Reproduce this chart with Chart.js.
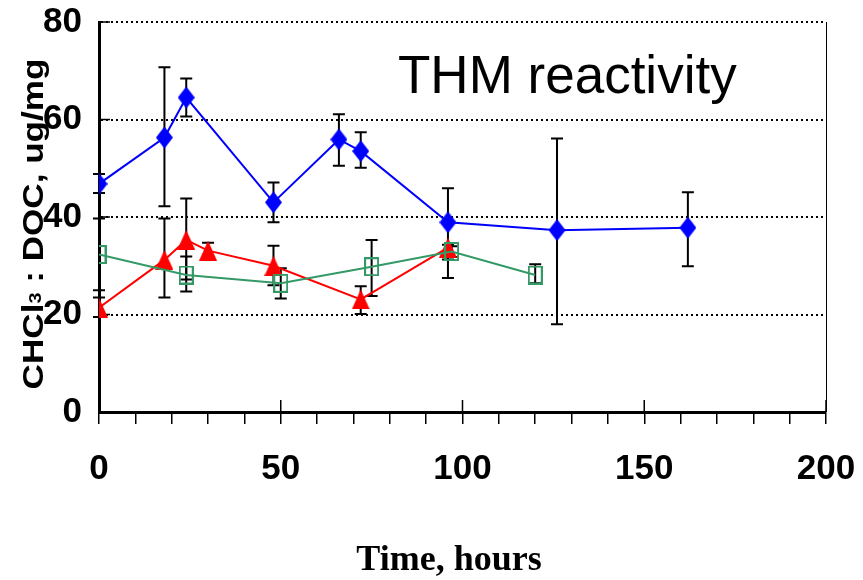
<!DOCTYPE html>
<html>
<head>
<meta charset="utf-8">
<script src="https://cdn.jsdelivr.net/npm/chart.js@4.4.1/dist/chart.umd.min.js"></script>
<style>
  html, body { margin: 0; padding: 0; background: #fff; }
</style>
</head>
<body>
<canvas id="thmChart" width="863" height="580"></canvas>
<script>
// sampling times (hours) and CHCl3 : DOC (ug/mg) with error bar limits
var blueHours = [0, 18, 24, 48, 66, 72, 96, 126, 162];
var blueValues = [46.8, 56.3, 64.5, 43.0, 55.9, 53.5, 38.9, 37.3, 37.8];
var blueHigh = [48.8, 70.7, 68.4, 47.1, 61.1, 57.4, 45.9, 56.1, 45.1];
var blueLow = [44.9, 42.2, 60.6, 38.9, 50.5, 50.1, 27.5, 18.0, 29.9];

var redHours = [0, 18, 24, 30, 48, 72, 96];
var redValues = [21.4, 31.2, 35.3, 33.1, 30.0, 23.1, 33.7];
var redHigh = [23.5, 39.7, 43.8, 34.7, 34.1, 25.8, 34.3];
var redLow = [19.5, 23.5, 27.2, 31.5, 26.0, 20.1, 31.3];

var greenHours = [0, 24, 50, 75, 97, 120];
var greenValues = [32.3, 28.1, 26.4, 29.8, 32.9, 28.1];
var greenHigh = [39.7, 31.9, 29.5, 35.3, 34.0, 30.3];
var greenLow = [25.0, 24.7, 23.3, 23.8, 31.8, 26.4];

var xTickLabels = [0, 50, 100, 150, 200];
var yTickLabels = [0, 20, 40, 60, 80];

var tickFont = '"Liberation Sans Narrow", "Arial Narrow", Arial, sans-serif';

function toPoints(xs, ys) {
    return xs.map(function(x, i) { return { x: x, y: ys[i] }; });
}

function marker(w, h, draw) {
    var c = document.createElement('canvas');
    c.width = w;
    c.height = h;
    draw(c.getContext('2d'), w, h);
    return c;
}

var diamond = marker(17, 22, function(g, w, h) {
    g.fillStyle = '#0000ff';
    g.beginPath();
    g.moveTo(w / 2, 0); g.lineTo(w, h / 2); g.lineTo(w / 2, h); g.lineTo(0, h / 2);
    g.closePath();
    g.fill();
});
var triangle = marker(18, 20, function(g, w, h) {
    g.fillStyle = '#ff0000';
    g.beginPath();
    g.moveTo(w / 2, 0); g.lineTo(w, h); g.lineTo(0, h);
    g.closePath();
    g.fill();
});
var square = marker(15, 19, function(g, w, h) {
    g.strokeStyle = '#339966';
    g.lineWidth = 2;
    g.strokeRect(1, 1, w - 2, h - 2);
});

function series(label, xs, ys, hi, lo, color, style) {
    return {
        label: label,
        data: toPoints(xs, ys),
        errHigh: hi,
        errLow: lo,
        showLine: true,
        borderColor: color,
        borderWidth: 2,
        pointStyle: style,
        pointRadius: 9,
        pointHoverRadius: 9
    };
}

// error bars go under the markers and lines
var errorBars = {
    id: 'errorBars',
    beforeDatasetsDraw: function(chart) {
        var ctx = chart.ctx, xs = chart.scales.x, ys = chart.scales.y;
        ctx.save();
        ctx.strokeStyle = '#000';
        ctx.lineWidth = 2;
        chart.data.datasets.forEach(function(ds) {
            ds.data.forEach(function(p, i) {
                var px = xs.getPixelForValue(p.x);
                var top = ys.getPixelForValue(ds.errHigh[i]);
                var bot = ys.getPixelForValue(ds.errLow[i]);
                ctx.beginPath();
                ctx.moveTo(px, top); ctx.lineTo(px, bot);
                ctx.moveTo(px - 6, top); ctx.lineTo(px + 6, top);
                ctx.moveTo(px - 6, bot); ctx.lineTo(px + 6, bot);
                ctx.stroke();
            });
        });
        ctx.restore();
    }
};

// inward y ticks, upward half of major x ticks, right frame line and the texts
var decorations = {
    id: 'decorations',
    beforeDatasetsDraw: function(chart) {
        var ctx = chart.ctx, a = chart.chartArea, xs = chart.scales.x, ys = chart.scales.y;
        ctx.save();
        ctx.strokeStyle = '#000';
        ctx.lineWidth = 1.5;
        ctx.beginPath();
        yTickLabels.forEach(function(v) {
            var py = ys.getPixelForValue(v);
            ctx.moveTo(a.left, py); ctx.lineTo(a.left + 11, py);
        });
        xTickLabels.forEach(function(v) {
            var px = xs.getPixelForValue(v);
            ctx.moveTo(px, a.bottom); ctx.lineTo(px, a.bottom - 12);
        });
        ctx.stroke();
        ctx.lineWidth = 1;
        ctx.beginPath();
        ctx.moveTo(a.right + 0.5, a.top); ctx.lineTo(a.right + 0.5, a.bottom);
        ctx.stroke();
        ctx.restore();
    },
    afterDraw: function(chart) {
        var ctx = chart.ctx;
        ctx.save();
        ctx.fillStyle = '#000';

        ctx.font = '53px "Liberation Sans", Arial, sans-serif';
        ctx.textAlign = 'left';
        ctx.textBaseline = 'alphabetic';
        ctx.fillText('THM reactivity', 398, 93);

        ctx.font = 'bold 36px "Liberation Serif", "Times New Roman", serif';
        ctx.textAlign = 'center';
        ctx.fillText('Time, hours', 449, 570);

        // rotated y title with a subscript 3
        var big = 'bold 30px "Liberation Sans", Arial, sans-serif';
        var small = 'bold 17px "Liberation Sans", Arial, sans-serif';
        var parts = [['CHCl', big, 0], ['3', small, -2], [' : DOC, ug/mg', big, 0]];
        var total = 0;
        parts.forEach(function(p) { ctx.font = p[1]; total += ctx.measureText(p[0]).width; });
        ctx.translate(43, 224);
        ctx.rotate(-Math.PI / 2);
        ctx.scale(1.17, 1);
        ctx.textAlign = 'left';
        var x = -total / 2;
        parts.forEach(function(p) {
            ctx.font = p[1];
            ctx.fillText(p[0], x, p[2]);
            x += ctx.measureText(p[0]).width;
        });
        ctx.restore();
    }
};

var ctx = document.getElementById('thmChart').getContext('2d');
var thmChart = new Chart(ctx, {
    type: 'scatter',
    data: {
        datasets: [
            series('Blue', blueHours, blueValues, blueHigh, blueLow, '#0000ff', diamond),
            series('Green', greenHours, greenValues, greenHigh, greenLow, '#339966', square),
            series('Red', redHours, redValues, redHigh, redLow, '#ff0000', triangle)
        ]
    },
    options: {
        responsive: false,
        animation: false,
        events: [],
        layout: { padding: { left: 0, top: 22, right: 37, bottom: 0 } },
        plugins: {
            legend: { display: false },
            tooltip: { enabled: false }
        },
        scales: {
            x: {
                type: 'linear',
                min: 0,
                max: 200,
                afterFit: function(scale) {
                    scale.height = 168;
                    scale.paddingLeft = 0;
                    scale.paddingRight = 0;
                },
                afterBuildTicks: function(scale) {
                    var t = [];
                    for (var v = 0; v <= 200; v += 10) t.push({ value: v });
                    scale.ticks = t;
                },
                ticks: {
                    autoSkip: false,
                    maxRotation: 0,
                    padding: 24,
                    color: '#000',
                    font: { family: tickFont, size: 35, weight: 'bold' },
                    callback: function(v) { return xTickLabels.indexOf(v) >= 0 ? String(v) : ''; }
                },
                grid: {
                    drawOnChartArea: false,
                    drawTicks: true,
                    tickLength: 12,
                    color: '#000',
                    lineWidth: 1.5
                },
                border: { display: true, color: '#000', width: 3 }
            },
            y: {
                min: 0,
                max: 80,
                afterFit: function(scale) {
                    scale.width = 99;
                    scale.paddingTop = 0;
                    scale.paddingBottom = 0;
                },
                afterBuildTicks: function(scale) {
                    scale.ticks = yTickLabels.map(function(v) { return { value: v }; });
                },
                ticks: {
                    padding: 17,
                    color: '#000',
                    font: { family: tickFont, size: 35, weight: 'bold' }
                },
                grid: {
                    drawTicks: false,
                    color: function(c) { return c.tick && c.tick.value === 0 ? 'rgba(0,0,0,0)' : '#000'; },
                    lineWidth: 2
                },
                border: { display: true, color: '#000', width: 3, dash: [2, 3] }
            }
        }
    },
    plugins: [errorBars, decorations]
});
</script>
</body>
</html>
